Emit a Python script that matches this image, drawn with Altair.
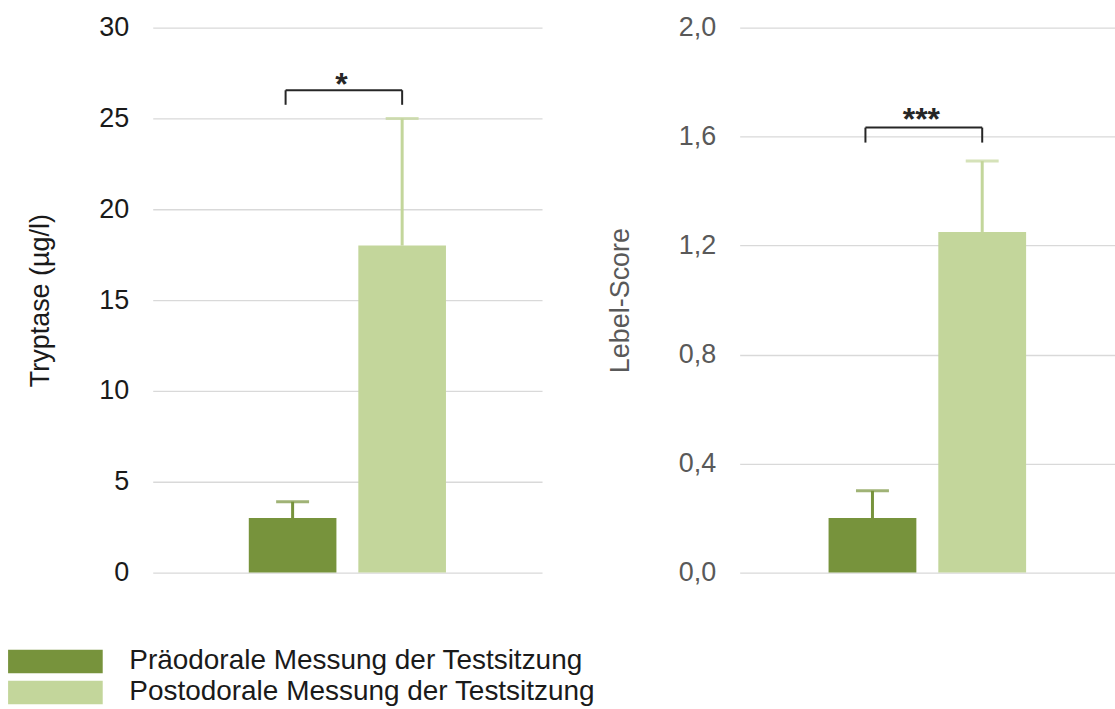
import altair as alt
import pandas as pd

# Measurement groups and their bar colours
groups = ["Präodorale Messung der Testsitzung", "Postodorale Messung der Testsitzung"]
group_colors = ["#77933C", "#C3D69B"]

# Serum tryptase (µg/l): mean and standard deviation per group
tryptase_mean = [3.0, 18.0]
tryptase_sd = [0.9, 7.0]
tryptase_ticks = [0, 5, 10, 15, 20, 25, 30]

# Lebel score: mean and standard deviation per group
lebel_mean = [0.20, 1.25]
lebel_sd = [0.10, 0.26]
lebel_ticks = [0.0, 0.4, 0.8, 1.2, 1.6, 2.0]

# Significance brackets: bar level, end drop, label level, label
tryptase_sig = [26.55, 25.75, 27.1, "*"]
lebel_sig = [1.633, 1.578, 1.68, "***"]

FONT = "Liberation Sans"


def panel(mean, sd, ticks, title, sig, width, ink, label_expr, pad_outer, legend):
    df = pd.DataFrame({
        "group": groups,
        "mean": mean,
        "top": [m + s for m, s in zip(mean, sd)],
    })
    lo, hi = ticks[0], ticks[-1]
    xscale = alt.Scale(domain=groups, paddingInner=0.2, paddingOuter=pad_outer)
    yscale = alt.Scale(domain=[lo, hi], nice=False, zero=True)
    x = alt.X("group:N", sort=groups, scale=xscale, axis=None)
    color = alt.Color(
        "group:N",
        scale=alt.Scale(domain=groups, range=group_colors),
        legend=legend,
    )

    bars = alt.Chart(df).mark_bar().encode(
        x=x,
        y=alt.Y(
            "mean:Q",
            scale=yscale,
            axis=alt.Axis(
                values=ticks,
                title=title,
                grid=True,
                gridColor="#d9d9d9",
                gridWidth=1.3,
                domain=False,
                ticks=False,
                labelPadding=24,
                labelFont=FONT,
                labelFontSize=27,
                labelColor=ink,
                labelExpr=label_expr,
                titleFont=FONT,
                titleFontSize=27,
                titleFontWeight="normal",
                titleColor=ink,
                titlePadding=44,
            ),
        ),
        color=color,
    )
    err = alt.Chart(df).mark_rule(strokeWidth=3).encode(
        x=x, y=alt.Y("mean:Q", scale=yscale), y2="top:Q", color=color
    )
    cap = alt.Chart(df).mark_tick(orient="horizontal", size=33, thickness=3).encode(
        x=x, y=alt.Y("top:Q", scale=yscale), color=color
    )

    sig_df = pd.DataFrame({
        "a": [groups[0]], "b": [groups[1]],
        "y": [sig[0]], "y_drop": [sig[1]], "y_text": [sig[2]], "label": [sig[3]],
    })
    ink_dark = "#262626"
    bracket = alt.Chart(sig_df).mark_rule(strokeWidth=2, color=ink_dark).encode(
        x=alt.X("a:N", scale=xscale, bandPosition=0.42),
        x2="b:N",
        y=alt.Y("y:Q", scale=yscale),
    )
    end_a = alt.Chart(sig_df).mark_rule(strokeWidth=2, color=ink_dark).encode(
        x=alt.X("a:N", scale=xscale, bandPosition=0.42),
        y=alt.Y("y:Q", scale=yscale),
        y2="y_drop:Q",
    )
    end_b = alt.Chart(sig_df).mark_rule(strokeWidth=2, color=ink_dark).encode(
        x=alt.X("b:N", scale=xscale),
        y=alt.Y("y:Q", scale=yscale),
        y2="y_drop:Q",
    )
    stars = alt.Chart(sig_df).mark_text(
        font=FONT, fontSize=32, fontWeight="bold", color=ink_dark,
        align="center", baseline="middle", dx=-17, dy=5,
    ).encode(
        x=alt.X("b:N", scale=xscale, bandPosition=0),
        y=alt.Y("y_text:Q", scale=yscale),
        text="label:N",
    )
    return alt.layer(bars, err, cap, bracket, end_a, end_b, stars).properties(
        width=width, height=546
    )


legend = alt.Legend(
    title=None,
    orient="none",
    legendX=-111.5,
    legendY=621,
    symbolType="M-3.95,-0.98H3.95V0.98H-3.95Z",
    symbolSize=576,
    symbolStrokeWidth=0,
    symbolOpacity=1,
    labelFont=FONT,
    labelFontSize=28,
    labelColor="#1a1a1a",
    labelOffset=60,
    labelLimit=0,
    rowPadding=3,
    padding=0,
)

left = panel(
    tryptase_mean, tryptase_sd, tryptase_ticks, "Tryptase (µg/l)", tryptase_sig,
    390, "#1a1a1a", "format(datum.value, 'd')", 0.877, legend,
)
right = panel(
    lebel_mean, lebel_sd, lebel_ticks, "Lebel-Score", lebel_sig,
    376, "#595959", "replace(format(datum.value, '.1f'), '.', ',')", 0.81, legend,
)

chart = (
    alt.hconcat(left, right, spacing=64)
    .properties(padding={"left": 26, "top": 13, "right": 0, "bottom": 0})
    .configure(background="white")
    .configure_view(stroke=None)
)

chart.save("out.html", embed_options={"renderer": "svg", "actions": False})
